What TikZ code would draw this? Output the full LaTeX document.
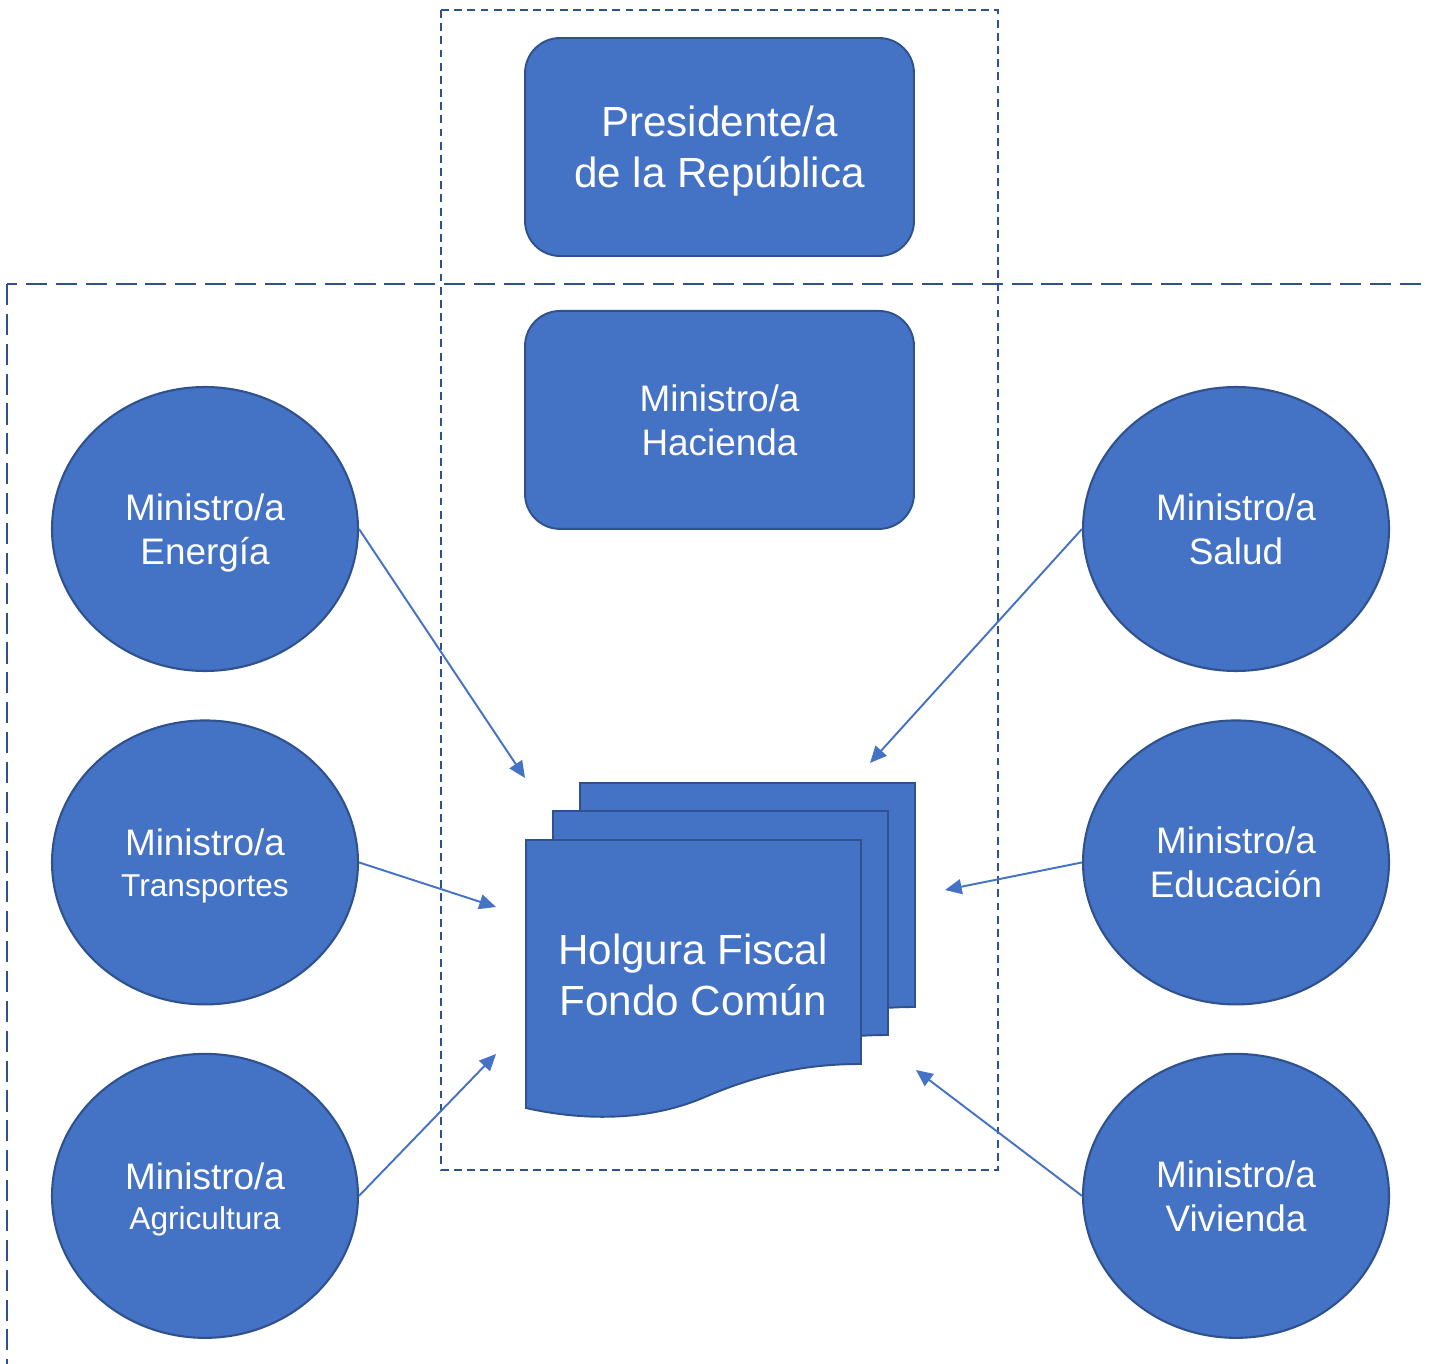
\documentclass[tikz,border=0pt]{standalone}
\usepackage{fontspec}
\setmainfont{Liberation Sans}
\usetikzlibrary{shapes.geometric,arrows.meta,positioning}
\definecolor{azul}{HTML}{4472C4}
\definecolor{borde}{HTML}{2F528F}

\begin{document}
\begin{tikzpicture}[x=0.02cm, y=-0.02cm, node distance={6.67cm},
    caja/.style = {draw=borde, fill=azul, line width=1.1pt, rounded corners=0.7cm, minimum width=7.78cm, minimum height=4.36cm, text=white, align=center, text depth=0pt},
    mini/.style = {draw=borde, fill=azul, line width=1.2pt, ellipse, inner sep=0pt, minimum width=6.12cm, minimum height=5.68cm, text=white, align=center, text depth=0pt, font=\fontsize{21}{25}\selectfont},
    hoja/.style = {draw=borde, fill=azul, line width=1.1pt},
    flecha/.style = {draw=azul, line width=1.1pt, -{Triangle[length=9.5pt,width=8.5pt]}},
    grupo/.style = {draw=borde, line width=1.3pt, dash pattern=on 4.5pt off 3pt},
    gobierno/.style = {draw=borde, line width=1.7pt, dash pattern=on 12pt off 5pt}]

    \useasboundingbox (0,0) rectangle (1429,1364);

    % recuadros punteados
    \draw[gobierno] (7,284) rectangle (1440,1365);
    \draw[grupo] (441,10) rectangle (998,1170);

    \node[caja, font=\fontsize{24}{29}\selectfont] (pres) at (719.5,147) {Presidente/a\\de la República};
    \node[caja, font=\fontsize{21}{25}\selectfont] (hac) [below of=pres, node distance=5.46cm] {Ministro/a\\Hacienda};

    \node[mini] (ene)                 at (205,529) {Ministro/a\\Energía};
    \node[mini] (tra) [below of=ene] {Ministro/a\\[-2pt]{\fontsize{18}{22}\selectfont Transportes}};
    \node[mini] (agr) [below of=tra] {Ministro/a\\[-2pt]{\fontsize{18}{22}\selectfont Agricultura}};
    \node[mini] (sal)                 at (1236,529) {Ministro/a\\Salud};
    \node[mini] (edu) [below of=sal] {Ministro/a\\Educación};
    \node[mini] (viv) [below of=edu] {Ministro/a\\Vivienda};

    % hojas apiladas
    \foreach \dx/\dy in {54/-57, 27/-29, 0/0}
        \draw[hoja, shift={(\dx,\dy)}] (526,840) -- (861,840) -- (861,1064)
            .. controls (820,1064) and (770,1069) .. (705,1097)
            .. controls (640,1125) and (570,1118) .. (526,1108) -- cycle;
    \node[text=white, align=center, font=\fontsize{24}{29}\selectfont] (fondo) at (693,975) {Holgura Fiscal\\Fondo Común};

    \coordinate (pEne) at (525,778);
    \coordinate (pTra) at (496,907);
    \coordinate (pAgr) at (496,1054);
    \coordinate (pSal) at (870,763);
    \coordinate (pEdu) at (945,890);
    \coordinate (pViv) at (916,1070);

    \draw[flecha] (ene.east) -- (pEne);
    \draw[flecha] (tra.east) -- (pTra);
    \draw[flecha] (agr.east) -- (pAgr);
    \draw[flecha] (sal.west) -- (pSal);
    \draw[flecha] (edu.west) -- (pEdu);
    \draw[flecha] (viv.west) -- (pViv);
\end{tikzpicture}
\end{document}
